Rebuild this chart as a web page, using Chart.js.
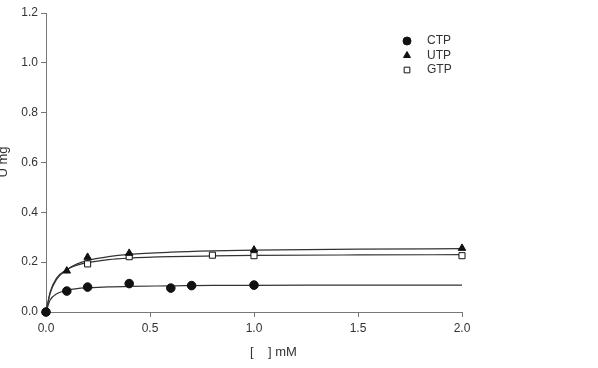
<!DOCTYPE html>
<html>
<head>
<meta charset="utf-8">
<script src="https://cdn.jsdelivr.net/npm/chart.js@4.4.0/dist/chart.umd.min.js"></script>
<style>
  html, body { margin: 0; padding: 0; background: #fff; }
  #wrap { width: 598px; height: 368px; position: relative; }
</style>
</head>
<body>
<div id="wrap"><canvas id="chart" width="598" height="368"></canvas></div>
<script>
// measured points
const ctpX = [0, 0.1, 0.2, 0.4, 0.6, 0.7, 1.0];
const ctpY = [0, 0.084, 0.100, 0.114, 0.096, 0.106, 0.108];
const utpX = [0, 0.1, 0.2, 0.4, 1.0, 2.0];
const utpY = [0, 0.165, 0.220, 0.236, 0.249, 0.256];
const gtpX = [0, 0.2, 0.4, 0.8, 1.0, 2.0];
const gtpY = [0, 0.193, 0.222, 0.228, 0.226, 0.226];

// fitted curves
const fitX    = [0, 0.02, 0.05, 0.1, 0.15, 0.2, 0.3, 0.4, 0.6, 0.8, 1.0, 1.5, 2.0];
const ctpFitY = [0, 0.048, 0.072, 0.087, 0.094, 0.097, 0.101, 0.103, 0.105, 0.107, 0.107, 0.108, 0.108];
const utpFitY = [0, 0.075, 0.130, 0.170, 0.193, 0.207, 0.222, 0.231, 0.240, 0.245, 0.248, 0.252, 0.254];
const gtpFitY = [0, 0.080, 0.135, 0.170, 0.188, 0.198, 0.210, 0.216, 0.222, 0.225, 0.227, 0.229, 0.230];

const xTicks = [0, 0.5, 1.0, 1.5, 2.0];
const yTicks = [0, 0.2, 0.4, 0.6, 0.8, 1.0, 1.2];

const legendNames = ['CTP', 'UTP', 'GTP'];
const xTitle = '[    ] mM';
const yTitle = 'U mg';

const pts = (xs, ys) => xs.map((x, i) => ({x, y: ys[i]}));
const FONT = 'Liberation Sans, Arial, sans-serif';
const TXT = '#333';
const AX = '#777';

function fitLine(ys){
  return {
    type: 'line', data: pts(fitX, ys), borderColor: '#333', borderWidth: 1.2,
    pointRadius: 0, cubicInterpolationMode: 'monotone', fill: false, order: 5
  };
}
function marks(xs, ys, style, fill, order){
  return {
    type: 'scatter', data: pts(xs, ys), pointStyle: style, pointRadius: 4.3,
    pointBackgroundColor: fill, pointBorderColor: '#111', pointBorderWidth: 1,
    showLine: false, order, clip: false
  };
}

const overlay = {
  id: 'overlay',
  afterDraw(chart){
    const ctx = chart.ctx;
    ctx.save();
    // legend
    const styles = [['circle', '#111'], ['triangle', '#111'], ['rect', '#fff']];
    ctx.font = '12px ' + FONT;
    ctx.textBaseline = 'middle';
    legendNames.forEach((n, i) => {
      const y = 41 + i * 14.5;
      ctx.fillStyle = styles[i][1];
      ctx.strokeStyle = '#111';
      ctx.lineWidth = 1;
      Chart.helpers.drawPoint(ctx, {pointStyle: styles[i][0], radius: 4, rotation: 0, borderWidth: 1}, 407, y);
      ctx.fillStyle = TXT;
      ctx.textAlign = 'left';
      ctx.fillText(n, 427, y);
    });
    // axis titles
    ctx.font = '13px ' + FONT;
    ctx.fillStyle = TXT;
    ctx.textAlign = 'left';
    ctx.fillText(xTitle, 250, 352);
    ctx.translate(3, 162);
    ctx.rotate(-Math.PI / 2);
    ctx.textAlign = 'center';
    ctx.fillText(yTitle, 0, 0);
    ctx.restore();
  }
};

new Chart(document.getElementById('chart'), {
  data: {
    datasets: [
      fitLine(ctpFitY), fitLine(utpFitY), fitLine(gtpFitY),
      marks(gtpX, gtpY, 'rect', '#fff', 3),
      marks(ctpX, ctpY, 'circle', '#111', 1),
      marks(utpX, utpY, 'triangle', '#111', 1)
    ]
  },
  options: {
    responsive: false,
    animation: false,
    layout: { padding: { left: 0, right: 136, top: 13, bottom: 0 } },
    plugins: { legend: { display: false }, tooltip: { enabled: false } },
    scales: {
      x: {
        type: 'linear', min: 0, max: 2.0,
        afterBuildTicks: s => { s.ticks = xTicks.map(v => ({value: v})); },
        afterFit: s => { s.height = 56; },
        grid: { drawOnChartArea: false, drawTicks: true, tickLength: 5, color: AX },
        border: { color: AX, width: 1 },
        ticks: { color: TXT, font: { size: 12, family: FONT }, padding: 4, maxRotation: 0,
                 callback: v => v.toFixed(1) }
      },
      y: {
        type: 'linear', min: 0, max: 1.2,
        afterBuildTicks: s => { s.ticks = yTicks.map(v => ({value: v})); },
        afterFit: s => { s.width = 46; },
        grid: { drawOnChartArea: false, drawTicks: true, tickLength: 5, color: AX },
        border: { color: AX, width: 1 },
        ticks: { color: TXT, font: { size: 12, family: FONT }, padding: 3,
                 callback: v => v.toFixed(1) }
      }
    }
  },
  plugins: [overlay]
});
</script>
</body>
</html>
